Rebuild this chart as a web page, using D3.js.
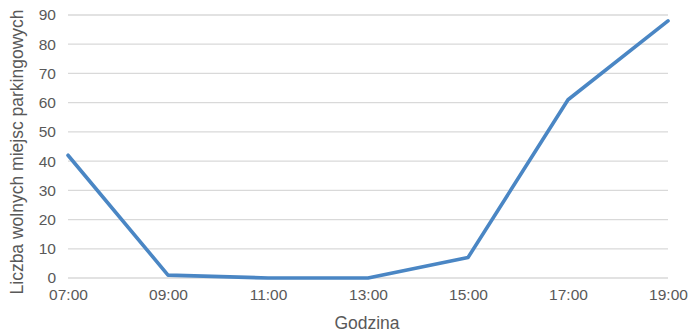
<!DOCTYPE html>
<html>
<head>
<meta charset="utf-8">
<script src="https://cdn.jsdelivr.net/npm/d3@7"></script>
<style>
  html, body { margin: 0; padding: 0; background: #fff; }
  svg { display: block; }
  text { font-family: "Liberation Sans", Arial, sans-serif; fill: #595959; }
</style>
</head>
<body>
<svg id="chart" width="689" height="334"></svg>
<script>
// Free parking spaces by hour
const hours = ["07:00", "09:00", "11:00", "13:00", "15:00", "17:00", "19:00"];
const freeSpaces = [42, 1, 0, 0, 7, 61, 88];
const yTicks = [0, 10, 20, 30, 40, 50, 60, 70, 80, 90];
const xTitle = "Godzina";
const yTitle = "Liczba wolnych miejsc parkingowych";

const svg = d3.select("#chart");
const margin = { left: 68, right: 21, top: 15, bottom: 56 };
const W = 689, H = 334;

const x = d3.scalePoint().domain(hours).range([margin.left, W - margin.right]);
const y = d3.scaleLinear().domain([0, 90]).range([H - margin.bottom, margin.top]);

// horizontal gridlines
svg.append("g")
  .selectAll("line")
  .data(yTicks)
  .join("line")
  .attr("x1", margin.left)
  .attr("x2", W - margin.right)
  .attr("y1", d => y(d))
  .attr("y2", d => y(d))
  .attr("stroke", "#d9d9d9")
  .attr("stroke-width", 1.3);

// y axis labels
const yAxis = svg.append("g")
  .attr("transform", `translate(${margin.left - 12},0)`)
  .call(d3.axisLeft(y).tickValues(yTicks).tickSize(0).tickPadding(0));
yAxis.select(".domain").remove();
yAxis.selectAll("text")
  .attr("font-size", 15.5)
  .attr("fill", "#595959")
  .style("font-family", "'Liberation Sans', Arial, sans-serif");

// x axis labels
const xAxis = svg.append("g")
  .attr("transform", `translate(0,${H - margin.bottom + 8})`)
  .call(d3.axisBottom(x).tickSize(0).tickPadding(0));
xAxis.select(".domain").remove();
xAxis.selectAll("text")
  .attr("font-size", 15.5)
  .attr("dy", "0.9em")
  .attr("fill", "#595959")
  .style("font-family", "'Liberation Sans', Arial, sans-serif");

// data line
const line = d3.line()
  .x((d, i) => x(hours[i]))
  .y(d => y(d));

svg.append("path")
  .datum(freeSpaces)
  .attr("fill", "none")
  .attr("stroke", "#4a86c4")
  .attr("stroke-width", 3.6)
  .attr("stroke-linejoin", "round")
  .attr("stroke-linecap", "round")
  .attr("d", line);

// axis titles
svg.append("text")
  .attr("x", 367)
  .attr("y", 329)
  .attr("text-anchor", "middle")
  .attr("font-size", 17.5)
  .text(xTitle);

svg.append("text")
  .attr("transform", `translate(23,152) rotate(-90)`)
  .attr("text-anchor", "middle")
  .attr("font-size", 17.5)
  .text(yTitle);
</script>
</body>
</html>
